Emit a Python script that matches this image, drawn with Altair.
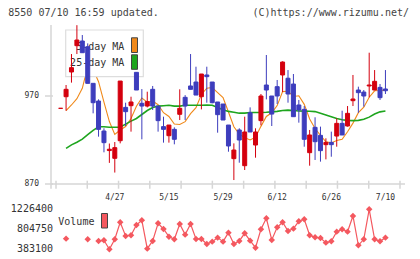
import altair as alt
import pandas as pd

# Daily candles for code 8550, index 0 = first session shown, 60 = 7/10
opens = [956, 969.2, 997.3, 1027.2, 1032.5, 1026, 984.4, 964.3, 930.2, 908,
         899.2, 919.2, 957.1, 959, 996.9, 961.7, 958.6, 977.6, 958.6, 935.2,
         924.9, 932.1, 949.2, 968.5, 981.4, 985.9, 969.2, 993.9, 985.9, 963.2,
         960.9, 937, 898.8, 931.4, 890.8, 951, 914.3, 942, 982.5, 970,
         980.6, 993.9, 990.2, 983.6, 959.8, 954.8, 905.6, 934.4, 925.3, 914.7,
         917.3, 924.5, 938.9, 935.9, 964.7, 976.8, 974.5, 981.4, 976.8, 979.8, 978]
highs = [956, 982.5, 1017.7, 1050.5, 1039.3, 1029.8, 984.4, 966.2, 933.3, 916,
         917.7, 987, 962.4, 969.2, 996.9, 977.9, 974.9, 981.4, 958.6, 946.5,
         937, 934.4, 977.6, 971, 1017.7, 1003.3, 995, 1003.3, 985.9, 963.2,
         960.9, 937, 916.2, 933.3, 946.5, 957.1, 933.3, 972.3, 1016.6, 970,
         988.2, 1009.4, 999.5, 995, 965.5, 958.6, 931.4, 945.8, 935.2, 921.9,
         929.5, 944.6, 953.3, 958.6, 993.9, 980.6, 976.8, 1019.2, 999.5, 983.6, 999.5]
lows = [956, 953.3, 985.2, 1017.7, 1019.2, 984.4, 950.3, 923.8, 906, 894,
        883, 916.2, 935.9, 929.5, 976.8, 920.8, 957.1, 954.1, 929.5, 917,
        917, 915.1, 942.7, 942.7, 977.6, 971.1, 954.8, 962.4, 961.7, 928.3,
        942.7, 906.7, 874.5, 894.2, 885.9, 929.1, 899.9, 936.7, 966.2, 935.9,
        960.9, 974.5, 962.4, 946.5, 939.7, 912.4, 890.8, 897.3, 895.4, 898,
        901, 912.4, 925.7, 935.2, 958.6, 951, 957.9, 968.5, 976.8, 965.5, 972.3]
closes = [956, 977.6, 1002.2, 1033.6, 1019.2, 984.4, 962.4, 932.1, 917, 909.5,
          911.3, 987, 952.2, 963.2, 976.8, 958.6, 963.6, 958.6, 942, 932.1,
          937, 920.8, 956, 958.6, 977.6, 971.1, 995, 992, 962.4, 948.8,
          942.7, 913.2, 908.6, 920, 929.1, 929.1, 929.1, 970, 976.8, 949.5,
          970, 1008.6, 972.3, 946.5, 954.1, 920.8, 925.7, 918.1, 907.9, 917.3,
          914.7, 938.9, 925.7, 950.3, 966.6, 973.8, 970, 982.5, 986.7, 968.1, 976]
ma5 = [None,
       953.3, 959.8, 967, 978.7, 1003.4, 1000.4, 986.3, 963, 941, 926.4,
       931.3, 935.3, 944.5, 958.3, 967.7, 963, 964.3, 960.1, 951, 946.7,
       938.1, 937.6, 940.9, 950, 956.8, 971.7, 978.9, 979.6, 973.9, 968.2,
       951.8, 935.1, 926.7, 922.7, 920, 923.2, 935.5, 946.8, 950.9, 959.1,
       975, 975.4, 969.4, 970.3, 960.5, 943.9, 933, 925.3, 918, 916.7,
       919.4, 920.9, 929.4, 939.2, 951.1, 957.3, 968.6, 975.9, 976.2, 976.7]
ma25 = [None,
        910.5, 914.5, 917.5, 921, 926, 931, 935, 935, 934.5, 934.5,
        934.5, 938, 941.5, 944.5, 949, 953.5, 957, 958.5, 959, 959.5,
        958.5, 958.5, 959.5, 959.5, 959.5, 959.5, 959.8, 959.5, 957, 954.5,
        952.5, 951.5, 950.5, 950.5, 951.2, 951.2, 951.2, 951.5, 952, 952.5,
        953.5, 954, 953.5, 953, 952.8, 952.6, 952.3, 950.5, 948.5, 946.5,
        944.5, 943, 942.3, 942, 942.3, 943.5, 946, 949.5, 952, 953]
volume = [None, 608000, None, None, None, 594000, None, 558800, 572800, 383100,
          593900, 952300, 664200, 678300, 896100, 994500, 397200, 558800, 931200, 811800,
          650100, 593900, 917200, 692300, 917200, 601000, 601000, 495500, 544700, 629100,
          544700, 734500, 495500, 558800, 720400, 565800, 418200, 804800, 1036700, 579900,
          846900, 952300, 769600, 818800, 973400, 1015600, 678300, 636100, 622000, 523700,
          551800, 755600, 804800, 755600, 1085900, 467400, 593900, 1226400, 593900, 551800, 629100]

date_ticks = [10, 20, 30, 40, 50, 60]
date_labels = ["4/27", "5/15", "5/29", "6/12", "6/26", "7/10"]
price_ticks = [870, 970]
volume_ticks = [383100, 804750, 1226400]

RED = "#d4000e"
BLUE = "#3d3dbd"
ORANGE = "#f0891a"
GREEN = "#1ea51e"
VOLC = "#f4585f"
AXISC = "#d6d6d6"
TXT = "#333333"
FONT = "DejaVu Sans Mono"

W, H = 354, 159

# line segments of the volume series break at missing sessions
seg, s, prev = [], 0, False
for v in volume:
    if v is None and prev:
        s += 1
    prev = v is not None
    seg.append(s)

df = pd.DataFrame({
    "i": list(range(len(closes))),
    "open": opens, "high": highs, "low": lows, "close": closes,
    "ma5": ma5, "ma25": ma25, "vol": volume, "seg": seg,
})
df["dir"] = ["up" if c >= o else "down" for o, c in zip(opens, closes)]

x_dom = [-0.86, 62.69]
xs = alt.Scale(domain=x_dom, nice=False, zero=False)
ys = alt.Scale(domain=[870, 1050.7], nice=False, zero=False)
vs = alt.Scale(domain=[volume_ticks[0], volume_ticks[-1]], range=[224.3, 184.3], nice=False, zero=False)
dir_scale = alt.Scale(domain=["up", "down"], range=[RED, BLUE])

one = pd.DataFrame({"k": [0]})
grid_df = pd.DataFrame({"t": [x_dom[0] + j * (x_dom[1] - x_dom[0]) / 11 for j in range(12)]})
pt_df = pd.DataFrame({"p": price_ticks, "lab": [str(p) for p in price_ticks]})
dt_df = pd.DataFrame({"d": date_ticks, "lab": date_labels})
vt_df = pd.DataFrame({"v": volume_ticks, "lab": [str(v) for v in volume_ticks]})

X = alt.X("i:Q", scale=xs, axis=None)

# axes
y_line = alt.Chart(one).mark_rule(color=AXISC, strokeWidth=1.5).encode(
    x=alt.value(0), y=alt.value(0), y2=alt.value(H + 4.7))
x_line = alt.Chart(one).mark_rule(color=AXISC, strokeWidth=1.5).encode(
    y=alt.value(H), x=alt.value(0), x2=alt.value(W))
x_ticks = alt.Chart(grid_df).mark_rule(color=AXISC, strokeWidth=1.5).encode(
    x=alt.X("t:Q", scale=xs, axis=None), y=alt.value(H - 3.3), y2=alt.value(H + 4.7))
y_ticks = alt.Chart(pt_df).mark_rule(color=AXISC, strokeWidth=1.5).encode(
    y=alt.Y("p:Q", scale=ys, axis=None), x=alt.value(-6), x2=alt.value(2))
y_labels = alt.Chart(pt_df).mark_text(align="right", baseline="middle", font=FONT,
                                       fontSize=8, color=TXT).encode(
    y=alt.Y("p:Q", scale=ys, axis=None), x=alt.value(-12), text="lab:N")
x_labels = alt.Chart(dt_df).mark_text(align="center", baseline="middle", font=FONT,
                                       fontSize=8, color=TXT).encode(
    x=alt.X("d:Q", scale=xs, axis=None), y=alt.value(H + 14.3), text="lab:N")

# moving averages
ma5_line = alt.Chart(df).mark_line(color=ORANGE, strokeWidth=1.1).encode(
    x=X, y=alt.Y("ma5:Q", scale=ys, axis=None))
ma25_line = alt.Chart(df).mark_line(color=GREEN, strokeWidth=1.6).encode(
    x=X, y=alt.Y("ma25:Q", scale=ys, axis=None))

# legend box for the moving averages
leg_box = alt.Chart(one).mark_rect(fill="white", stroke="#dddddd", strokeWidth=1.2).encode(
    x=alt.value(14.7), x2=alt.value(92.3), y=alt.value(5), y2=alt.value(51.7))
leg_txt = alt.Chart(pd.DataFrame({"lab": ["5-day MA", "25-day MA"], "yy": [21.7, 38.3]})).mark_text(
    align="right", baseline="middle", font=FONT, fontSize=10, color=TXT).encode(
    x=alt.value(73.3), y=alt.Y("yy:Q", scale=None), text="lab:N")
leg_sw1 = alt.Chart(one).mark_rect(fill=ORANGE, stroke="#444444", strokeWidth=1).encode(
    x=alt.value(80.5), x2=alt.value(86.5), y=alt.value(12.8), y2=alt.value(27.5))
leg_sw2 = alt.Chart(one).mark_rect(fill=GREEN, stroke="#444444", strokeWidth=1).encode(
    x=alt.value(80.5), x2=alt.value(86.5), y=alt.value(29.8), y2=alt.value(44.3))

# candles
wicks = alt.Chart(df).mark_rule(strokeWidth=1).encode(
    x=X, y=alt.Y("low:Q", scale=ys, axis=None), y2="high:Q",
    color=alt.Color("dir:N", scale=dir_scale, legend=None))
bodies = alt.Chart(df).mark_bar(size=4, strokeWidth=1).encode(
    x=X, y=alt.Y("open:Q", scale=ys, axis=None), y2="close:Q",
    fill=alt.Fill("dir:N", scale=dir_scale, legend=None),
    stroke=alt.Stroke("dir:N", scale=dir_scale, legend=None))

price = alt.layer(y_line, x_line, x_ticks, y_ticks, y_labels, x_labels,
                  ma5_line, ma25_line, leg_box, leg_txt, leg_sw1, leg_sw2,
                  wicks, bodies)

# volume panel
vol_line = alt.Chart(df).transform_filter("isValid(datum.vol)").mark_line(
    color=VOLC, strokeWidth=1.2).encode(
    x=X, y=alt.Y("vol:Q", scale=vs, axis=None), detail="seg:N")
vol_pts = alt.Chart(df).transform_filter("isValid(datum.vol)").mark_point(
    shape="diamond", filled=True, size=42, color=VOLC, opacity=1).encode(
    x=X, y=alt.Y("vol:Q", scale=vs, axis=None))
vol_labels = alt.Chart(vt_df).mark_text(align="right", baseline="middle", font=FONT,
                                         fontSize=10, color=TXT).encode(
    y=alt.Y("v:Q", scale=vs, axis=None), x=alt.value(2), text="lab:N")
vol_leg = alt.Chart(one).mark_text(align="left", baseline="middle", font=FONT,
                                    fontSize=10, color=TXT, text="Volume").encode(
    x=alt.value(7.3), y=alt.value(196.7))
vol_sw = alt.Chart(one).mark_rect(fill=VOLC, stroke="#444444", strokeWidth=1).encode(
    x=alt.value(50.5), x2=alt.value(56.5), y=alt.value(188.5), y2=alt.value(203))

vol = alt.layer(vol_line, vol_pts, vol_labels, vol_leg, vol_sw)

# header
head_l = alt.Chart(one).mark_text(align="left", baseline="middle", font=FONT, fontSize=10,
                                   color="#444444", text="8550 07/10 16:59 updated.").encode(
    x=alt.value(-42.7), y=alt.value(-12))
head_r = alt.Chart(one).mark_text(align="right", baseline="middle", font=FONT, fontSize=10,
                                   color="#444444", text="(C)https://www.rizumu.net/").encode(
    x=alt.value(358), y=alt.value(-12))

chart = alt.layer(price, vol, head_l, head_r).resolve_scale(y="independent").properties(
    width=W, height=H,
    padding={"left": 51, "top": 25, "right": 15, "bottom": 75},
    autosize=alt.AutoSizeParams(type="none"),
    background="white",
).configure_view(stroke=None)

chart.save("out.html", embed_options={"renderer": "svg", "actions": False})
